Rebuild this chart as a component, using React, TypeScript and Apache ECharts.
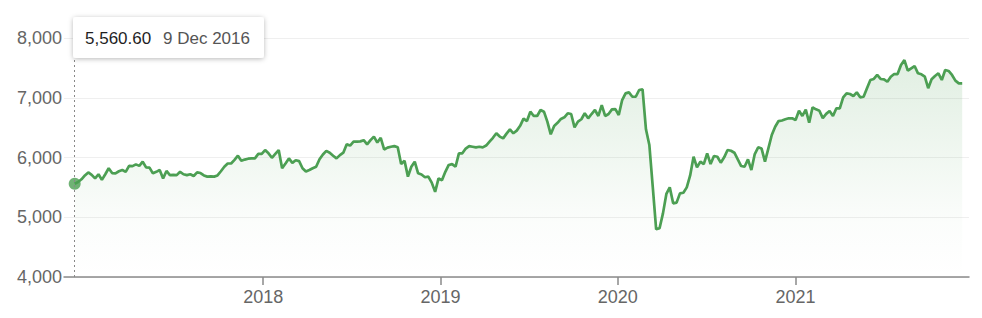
import React, { useEffect, useRef } from "react";
import * as echarts from "echarts";

// Weekly closes, first week = 9 Dec 2016
const startDate = Date.UTC(2016, 11, 9);
const weekMs = 7 * 24 * 3600 * 1000;

const values: number[] = [
  5560.6, 5590, 5635, 5700, 5750, 5710, 5650, 5720, 5625, 5720,
  5820, 5740, 5735, 5770, 5790, 5760, 5860, 5855, 5885, 5860,
  5930, 5835, 5830, 5735, 5760, 5790, 5650, 5775, 5705, 5710,
  5705, 5760, 5720, 5705, 5720, 5690, 5750, 5740, 5700, 5680,
  5685, 5680, 5700, 5770, 5845,
  5900, 5900, 5960, 6030, 5945, 5965, 5980, 5985, 5985, 6060,
  6060, 6125, 6070, 5995, 6060, 6125, 5820, 5900, 5985, 5910,
  5955, 5940, 5820, 5765, 5790, 5820, 5845, 5970, 6050, 6110,
  6080, 6030, 5985, 6040, 6080, 6220, 6200, 6265, 6265, 6270,
  6290, 6220, 6290, 6350,
  6250, 6330, 6135, 6165, 6180, 6190, 6170, 5890, 5945, 5680,
  5845, 5930, 5735, 5715, 5670, 5680, 5580, 5425, 5650, 5620,
  5760, 5875, 5890, 5845, 6070, 6070, 6150, 6190, 6180, 6170,
  6180, 6170, 6200, 6265, 6330, 6405, 6350, 6320, 6400, 6470,
  6405, 6450, 6530, 6650,
  6610, 6767, 6695, 6695, 6795, 6767, 6600, 6388, 6527, 6580,
  6645, 6673, 6740, 6728, 6505, 6600, 6640, 6740, 6656, 6728,
  6795, 6695, 6878, 6695, 6728, 6806, 6810, 6711, 6962, 7074,
  7090, 7017, 7017, 7130, 7141, 6472, 6209, 5510, 4798, 4815,
  5065, 5390, 5500, 5233,
  5245, 5400, 5410, 5500, 5700, 6013, 5835, 5930, 5890, 6070,
  5890, 6025, 6013, 5913, 6003, 6125, 6113, 6080, 5970, 5857,
  5845, 5970, 5790, 6058, 6170, 6150, 5930, 6153, 6376, 6515,
  6610, 6620, 6640, 6656, 6656, 6627, 6783, 6695, 6800, 6583,
  6840, 6806, 6783, 6660,
  6730, 6778, 6695, 6823, 6823, 7007, 7074, 7063, 7030, 7090,
  7007, 7017, 7158, 7297, 7314, 7381, 7314, 7309, 7268, 7352,
  7397, 7397, 7548, 7630, 7453, 7493, 7531, 7409, 7392, 7352,
  7160, 7309, 7364, 7409, 7297, 7464, 7448, 7381, 7286, 7241,
  7241,
];

const yearTicks: number[] = [2018, 2019, 2020, 2021];
const yTicks = { min: 4000, max: 8000, interval: 1000 };
const axisMin = Date.UTC(2016, 10, 17);
const axisMax = Date.UTC(2021, 11, 24);
const monthNames = ["Jan", "Feb", "Mar", "Apr", "May", "Jun", "Jul", "Aug", "Sep", "Oct", "Nov", "Dec"];

const GREEN = "#4c9f53";
const FONT = "'Liberation Sans', Arial, Helvetica, sans-serif";

export default function App() {
  const ref = useRef<HTMLDivElement>(null);
  useEffect(() => {
    if (!ref.current) return;
    const chart = echarts.init(ref.current, undefined, { renderer: "svg" });
    const data = values.map((v, i) => [startDate + i * weekMs, v]);
    const yearVals = yearTicks.map((y) => Date.UTC(y, 0, 1));
    const d0 = new Date(startDate);
    const tipValue = values[0].toLocaleString("en-US", { minimumFractionDigits: 2, maximumFractionDigits: 2 });
    const tipDate = `${d0.getUTCDate()} ${monthNames[d0.getUTCMonth()]} ${d0.getUTCFullYear()}`;

    chart.setOption({
      animation: false,
      textStyle: { fontFamily: FONT },
      grid: { left: 64, right: 13, top: 38, bottom: 41 },
      xAxis: {
        type: "value",
        min: axisMin,
        max: axisMax,
        axisLine: { show: true, lineStyle: { color: "#8a8a8a", width: 1.5 } },
        axisTick: { show: true, customValues: yearVals, length: 8, lineStyle: { color: "#8a8a8a", width: 1.5 } },
        axisLabel: {
          customValues: yearVals,
          formatter: (v: number) => String(new Date(v).getUTCFullYear()),
          color: "#666",
          fontSize: 18,
          margin: 11,
          fontFamily: FONT,
        },
        splitLine: { show: false },
      },
      yAxis: {
        type: "value",
        min: yTicks.min,
        max: yTicks.max,
        interval: yTicks.interval,
        axisLine: { show: false },
        axisTick: { show: false },
        axisLabel: {
          formatter: (v: number) => v.toLocaleString("en-US"),
          color: "#666",
          fontSize: 18,
          margin: 2,
          fontFamily: FONT,
        },
        splitLine: { lineStyle: { color: "#efefef", width: 1 } },
      },
      series: [
        {
          type: "line",
          data,
          showSymbol: false,
          symbol: "none",
          lineStyle: { color: GREEN, width: 2.7 },
          itemStyle: { color: GREEN },
          areaStyle: {
            color: new echarts.graphic.LinearGradient(0, 0, 0, 1, [
              { offset: 0, color: "rgba(76,159,83,0.24)" },
              { offset: 0.75, color: "rgba(76,159,83,0.03)" },
              { offset: 1, color: "rgba(76,159,83,0)" },
            ]),
          },
          z: 2,
        },
        {
          type: "scatter",
          data: [data[0]],
          symbolSize: 12,
          itemStyle: { color: GREEN },
          z: 4,
          silent: true,
          markLine: {
            silent: true,
            symbol: "none",
            label: { show: false },
            lineStyle: { color: "#888", width: 1, type: [2, 3] },
            data: [{ xAxis: startDate }],
          },
        },
      ],
      graphic: [
        {
          type: "rect",
          z: 100,
          zlevel: 0,
          shape: { x: 73, y: 17, width: 191, height: 41, r: 3 },
          style: {
            fill: "#fff",
            shadowBlur: 5,
            shadowColor: "rgba(0,0,0,0.28)",
            shadowOffsetY: 1,
          },
        },
        {
          type: "text",
          z: 101,
          x: 85,
          y: 38,
          style: {
            text: tipValue,
            fill: "#1f1f1f",
            font: `17px ${FONT}`,
            verticalAlign: "middle",
          },
        },
        {
          type: "text",
          z: 101,
          x: 163,
          y: 38,
          style: {
            text: tipDate,
            fill: "#555",
            font: `17px ${FONT}`,
            verticalAlign: "middle",
          },
        },
      ],
    });
    return () => chart.dispose();
  }, []);
  return (
    <div
      ref={ref}
      style={{ position: "absolute", left: 0, top: 0, width: 982, height: 318, background: "#fff" }}
    />
  );
}
